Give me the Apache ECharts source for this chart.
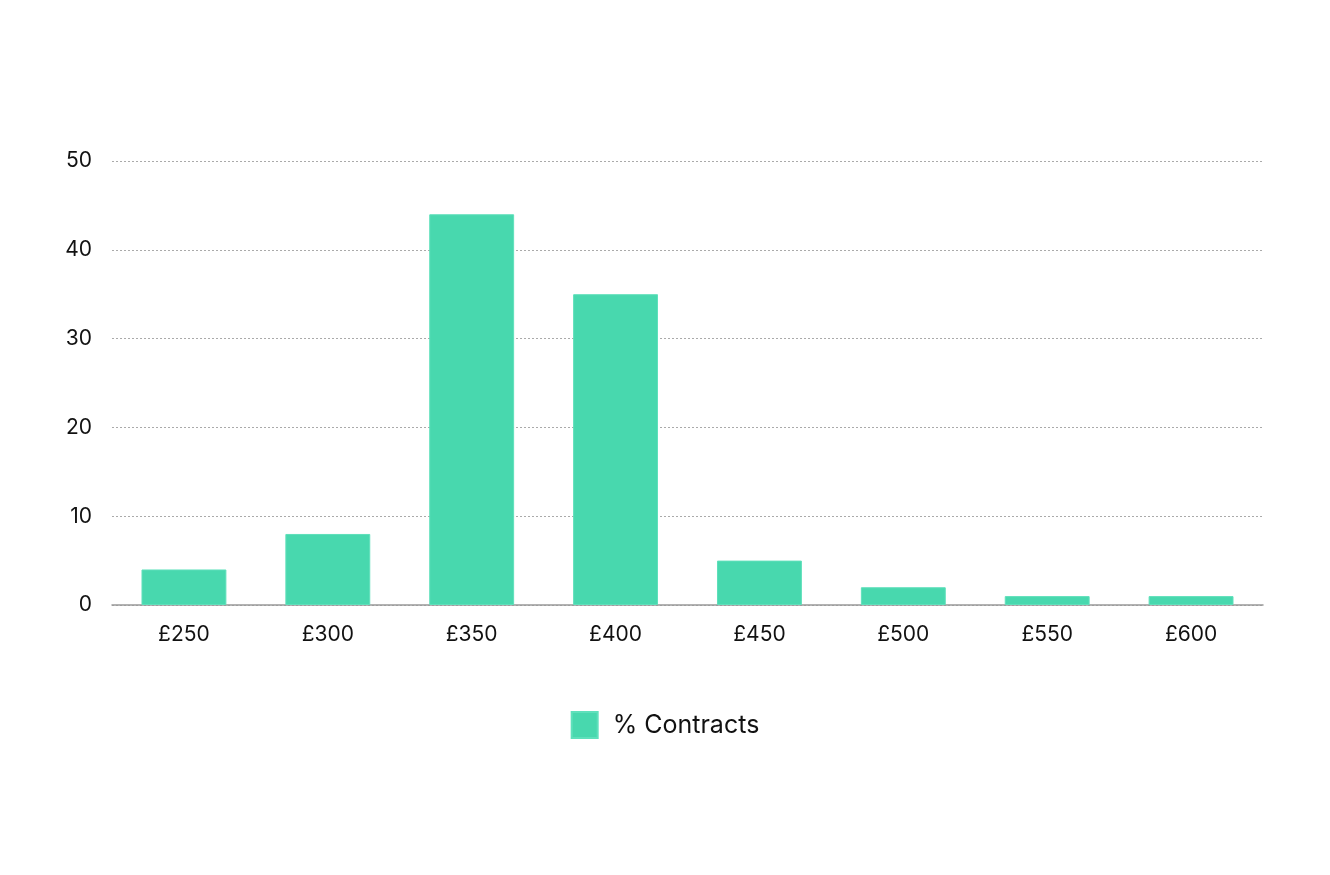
<!DOCTYPE html>
<html>
<head>
<meta charset="utf-8">
<script src="https://cdn.jsdelivr.net/npm/echarts@6/dist/echarts.min.js"></script>
<style>
  html, body { margin: 0; padding: 0; background: #fff; }
  #chart { width: 1330px; height: 875px; }
</style>
</head>
<body>
<div id="chart"></div>
<script type="text/javascript">
	var categories = ['£250', '£300', '£350', '£400', '£450', '£500', '£550', '£600'];
	var contracts = [4, 8, 44, 35, 5, 2, 1, 1];
	var seriesName = '% Contracts';

	var font = 'Inter, "Noto Sans", sans-serif';

	var option = {
		animation: false,
		grid: { left: 112, right: 67, top: 161, bottom: 270 },
		legend: {
			data: [{ name: seriesName, icon: 'rect' }],
			bottom: 131,
			left: 'center',
			itemWidth: 26,
			itemHeight: 26,
			textStyle: { fontFamily: font, fontSize: 25, color: '#111', padding: [0, 0, 0, 10] }
		},
		xAxis: {
			type: 'category',
			data: categories,
			axisLine: { lineStyle: { color: '#999', width: 1.5 } },
			axisTick: { show: false },
			axisLabel: { fontFamily: font, fontSize: 21, color: '#111', margin: 19 }
		},
		yAxis: {
			type: 'value',
			min: 0,
			max: 50,
			interval: 10,
			axisLine: { show: false },
			axisTick: { show: false },
			axisLabel: { fontFamily: font, fontSize: 21, color: '#111', margin: 20, lineHeight: 26, verticalAlign: 'middle' },
			splitLine: { lineStyle: { color: '#aaa', type: [2, 2], width: 1 } }
		},
		series: [{
			name: seriesName,
			type: 'bar',
			data: contracts,
			barWidth: '59%',
			itemStyle: { color: '#48d8ae', borderColor: '#5fe0bb', borderWidth: 1 }
		}]
	};

	var myChart = echarts.init(document.getElementById('chart'));
	myChart.setOption(option);
</script>
</body>
</html>
